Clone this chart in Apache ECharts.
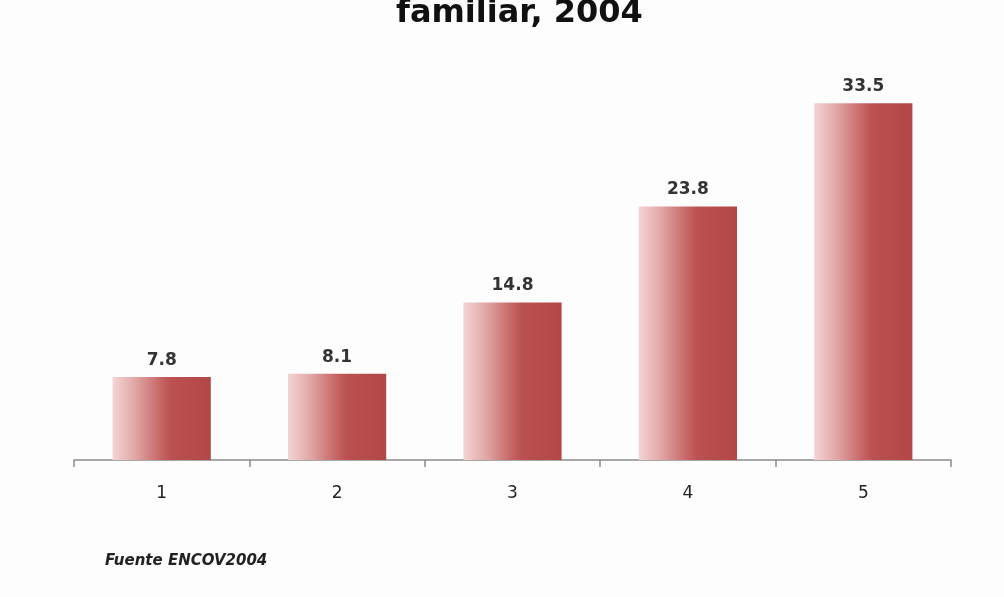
<!DOCTYPE html>
<html>
<head>
<meta charset="utf-8">
<script src="https://cdn.jsdelivr.net/npm/echarts@6/dist/echarts.min.js"></script>
<style>
  html, body { margin: 0; padding: 0; background: #fdfdfd; }
  #chart { width: 1004px; height: 597px; }
</style>
</head>
<body>
<div id="chart"></div>
<script>
// Quintiles of family income and their shares (%)
const categories = ['1', '2', '3', '4', '5'];
const values = [7.8, 8.1, 14.8, 23.8, 33.5];
const titleText = 'familiar, 2004';
const sourceText = 'Fuente ENCOV2004';

const chart = echarts.init(document.getElementById('chart'));

// Light-to-dark horizontal shading on each bar
const barFill = new echarts.graphic.LinearGradient(0, 0, 1, 0, [
  { offset: 0, color: '#f4d4d4' },
  { offset: 0.22, color: '#e2a8a8' },
  { offset: 0.48, color: '#c76868' },
  { offset: 0.6, color: '#bb5050' },
  { offset: 1, color: '#b34747' }
]);

chart.setOption({
  backgroundColor: '#fdfdfd',
  animation: false,
  graphic: [{
    type: 'text',
    left: 396,
    top: -2,
    style: {
      text: titleText,
      font: 'bold 32px "DejaVu Sans"',
      fill: '#111'
    }
  }, {
    type: 'text',
    left: 105,
    top: 554,
    style: {
      text: sourceText,
      font: 'italic bold 15px "DejaVu Sans"',
      fill: '#222'
    }
  }],
  grid: { left: 74, right: 53, top: 34, bottom: 137 },
  xAxis: {
    type: 'category',
    data: categories,
    axisLine: { lineStyle: { color: '#8a8a8a', width: 1.5 } },
    axisTick: { show: true, length: 7, lineStyle: { color: '#8a8a8a', width: 1.5 } },
    axisLabel: {
      margin: 25,
      fontFamily: 'DejaVu Sans',
      fontSize: 17,
      color: '#222'
    }
  },
  yAxis: {
    type: 'value',
    min: 0,
    max: 40,
    show: false,
    splitLine: { show: false }
  },
  series: [{
    type: 'bar',
    data: values,
    barWidth: '56%',
    itemStyle: { color: barFill },
    label: {
      show: true,
      position: 'top',
      distance: 8,
      fontFamily: 'DejaVu Sans',
      fontWeight: 'bold',
      fontSize: 17,
      color: '#333',
      formatter: p => p.value.toFixed(1)
    }
  }]
});
</script>
</body>
</html>
